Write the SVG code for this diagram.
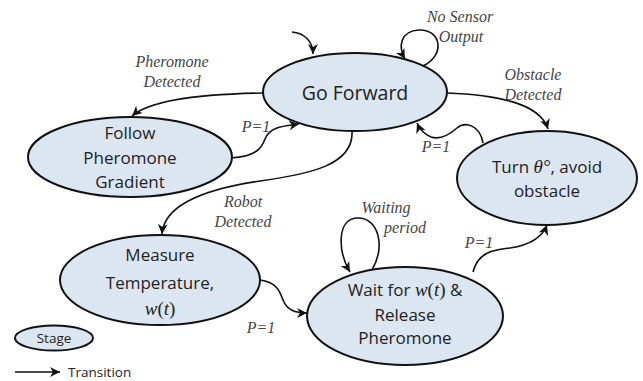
<svg xmlns="http://www.w3.org/2000/svg" width="643" height="381" viewBox="0 0 643 381">
<defs>
<style>
.node{fill:#dce6f1;stroke:#111;stroke-width:2}
.nt{font-family:"Open Sans","Noto Sans",sans-serif;font-size:17px;fill:#222;text-anchor:middle}
.lbl{font-family:"Liberation Serif",serif;font-style:italic;font-size:16px;fill:#444;text-anchor:middle}
.m{font-family:"Liberation Serif",serif;font-style:italic;font-size:19px}
.edge{fill:none;stroke:#111;stroke-width:1.6;marker-end:url(#ah)}
</style>
<marker id="ah" markerUnits="userSpaceOnUse" markerWidth="12" markerHeight="10" refX="10" refY="5" orient="auto">
<path d="M0,0 L10,5 L0,10 L3,5 z" fill="#111"/>
</marker>
</defs>
<rect width="643" height="381" fill="#fff"/>

<g id="connectors">
<path class="edge" d="M292,32 C304,33 313,41 313,54"/>
<path class="edge" d="M423,66 C446,55 441,29 419,30 C400,31 398,47 405,59"/>
<path class="edge" d="M263,93 C205,94 150,100 132,116"/>
<path class="edge" d="M231,158 C258,156 262,147 265,139 C270,126 285,126 299,124"/>
<path class="edge" d="M447,93 C500,95 540,104 548,129"/>
<path class="edge" d="M483,143 C480,125 465,121 457,128 C449,135 440,140 431,137 C424,134 420,130 417,123"/>
<path class="edge" d="M352,131 C354,165 310,174 260,181 C205,189 164,205 162,234"/>
<path class="edge" d="M260,280 C277,282 280,292 283,300 C287,310 295,313 307,313"/>
<path class="edge" d="M372,270 C386,245 378,218 358,218 C336,218 338,252 350,272"/>
<path class="edge" d="M473,272 C478,251 495,250 510,248 C530,245 542,238 547,225"/>
<path class="edge" d="M15,372 L60,372"/>
</g>

<g id="labels">
<text class="lbl" x="172" y="67">Pheromone</text>
<text class="lbl" x="172" y="87">Detected</text>
<text class="lbl" x="460" y="22">No Sensor</text>
<text class="lbl" x="461" y="42">Output</text>
<text class="lbl" x="533" y="80">Obstacle</text>
<text class="lbl" x="533" y="100">Detected</text>
<text class="lbl" x="243" y="207">Robot</text>
<text class="lbl" x="243" y="227">Detected</text>
<text class="lbl" x="386" y="213">Waiting</text>
<text class="lbl" x="405" y="233">period</text>
<text class="lbl" x="256" y="132">P=1</text>
<text class="lbl" x="436" y="152">P=1</text>
<text class="lbl" x="479" y="248">P=1</text>
<text class="lbl" x="261" y="333">P=1</text>
</g>

<g id="go-forward">
<ellipse class="node" cx="355" cy="92" rx="92" ry="39"/>
<text class="nt" x="355" y="100" style="font-size:19.5px">Go Forward</text>
</g>

<g id="follow-pheromone">
<ellipse class="node" cx="130" cy="157" rx="102" ry="40"/>
<text class="nt" x="130" y="139">Follow</text>
<text class="nt" x="130" y="164">Pheromone</text>
<text class="nt" x="130" y="188">Gradient</text>
</g>

<g id="turn">
<ellipse class="node" cx="547" cy="178" rx="90" ry="47"/>
<text class="nt" x="547" y="173">Turn <tspan class="m">θ°</tspan>, avoid</text>
<text class="nt" x="547" y="197">obstacle</text>
</g>

<g id="measure">
<ellipse class="node" cx="160" cy="280" rx="100" ry="45"/>
<text class="nt" x="160" y="261">Measure</text>
<text class="nt" x="160" y="289">Temperature,</text>
<text class="nt" x="160" y="315"><tspan class="m">w</tspan><tspan class="m" style="font-style:normal">(</tspan><tspan class="m">t</tspan><tspan class="m" style="font-style:normal">)</tspan></text>
</g>

<g id="wait">
<ellipse class="node" cx="405" cy="316" rx="98" ry="49"/>
<text class="nt" x="405" y="296">Wait for <tspan class="m">w</tspan><tspan class="m" style="font-style:normal">(</tspan><tspan class="m">t</tspan><tspan class="m" style="font-style:normal">)</tspan> &amp;</text>
<text class="nt" x="405" y="321">Release</text>
<text class="nt" x="405" y="344">Pheromone</text>
</g>

<g id="legend-stage">
<ellipse class="node" cx="54" cy="338" rx="39" ry="12.5"/>
<text class="nt" x="54" y="343" style="font-size:13.5px">Stage</text>
</g>
<text class="nt" x="68" y="377" style="font-size:13.5px;text-anchor:start">Transition</text>
</svg>
